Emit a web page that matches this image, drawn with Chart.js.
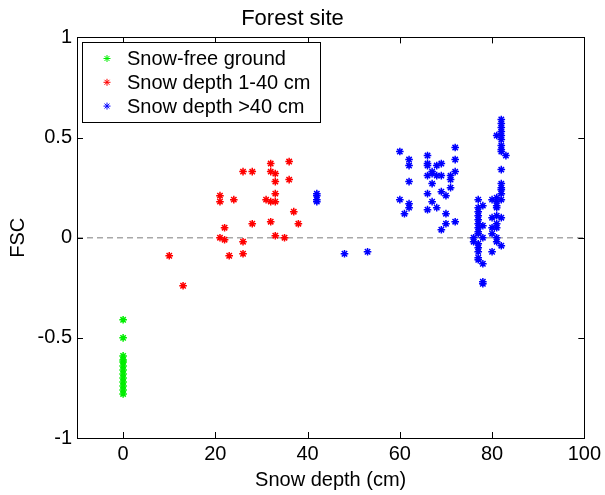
<!DOCTYPE html>
<html>
<head>
<meta charset="utf-8">
<script src="https://cdn.jsdelivr.net/npm/chart.js@4.4.1/dist/chart.umd.min.js"></script>
<style>
  html, body { margin: 0; padding: 0; background: #fff; }
  #wrap { width: 605px; height: 495px; }
</style>
</head>
<body>
<div id="wrap"><canvas id="fscChart" width="605" height="495"></canvas></div>
<script>
// Axis limits and tick values
const xLimits = [-10, 100];
const yLimits = [-1, 1];
const xTicks = [0, 20, 40, 60, 80, 100];
const yTicks = [-1, -0.5, 0, 0.5, 1];

const seriesNames = ["Snow-free ground", "Snow depth 1-40 cm", "Snow depth >40 cm"];

// Snow-free ground (all at 0 cm)
const freeX = [0, 0, 0, 0, 0, 0, 0, 0, 0, 0, 0, 0, 0];
const freeY = [-0.41, -0.50, -0.59, -0.61, -0.62, -0.64, -0.66, -0.68, -0.70, -0.72, -0.74, -0.76, -0.78];

// Snow depth 1-40 cm
const shallowX = [10, 13, 21, 21, 24, 22, 21, 22, 23, 26, 26, 26, 28, 28, 32, 32, 33, 33, 33, 31, 32, 33, 32, 33, 35, 36, 36, 37, 38];
const shallowY = [-0.09, -0.24, 0.21, 0.18, 0.19, 0.05, 0.00, -0.01, -0.09, -0.02, -0.08, 0.33, 0.33, 0.07, 0.37, 0.33, 0.32, 0.28, 0.22, 0.19, 0.18, 0.18, 0.08, 0.01, 0.00, 0.38, 0.29, 0.13, 0.07];

// Snow depth >40 cm
const deepX = [
  42, 42, 42, 42, 48, 53,
  60, 62, 62, 62, 60, 62, 62, 61, 66, 66, 66, 67, 66, 67, 68, 68, 69, 69, 67, 66, 69, 70, 67, 66, 68, 70, 70, 72, 69, 71, 71, 71, 72, 72, 72,
  77, 77, 77, 77, 77, 77, 77, 77, 77, 76, 78, 76, 77, 77, 77, 77, 77, 78, 78, 78, 78, 78,
  80, 80, 80, 81, 81, 81, 81, 82, 80, 81, 82, 81, 80, 81, 82, 82, 82, 82, 81, 82, 81,
  82, 82, 82, 82, 82, 81, 82, 82, 82, 82, 83, 82
];
const deepY = [
  0.22, 0.21, 0.19, 0.18, -0.08, -0.07,
  0.43, 0.39, 0.36, 0.28, 0.19, 0.17, 0.15, 0.12, 0.41, 0.37, 0.36, 0.33, 0.31, 0.32, 0.31, 0.36, 0.37, 0.31, 0.27, 0.22, 0.23, 0.21, 0.18, 0.14, 0.15, 0.12, 0.07, 0.08, 0.04, 0.25, 0.29, 0.31, 0.33, 0.39, 0.45,
  0.19, 0.15, 0.13, 0.11, 0.09, 0.07, 0.05, 0.03, 0.02, 0.00, 0.00, -0.02, -0.03, -0.05, -0.07, -0.10, -0.11, -0.13, -0.22, -0.23, 0.16, 0.06,
  -0.07, 0.05, 0.02, 0.07, 0.05, 0.00, -0.02, -0.04, 0.10, 0.11, 0.10, 0.16, 0.19, 0.20, 0.22, 0.24, 0.25, 0.27, 0.18, 0.19, 0.15,
  0.59, 0.57, 0.55, 0.53, 0.51, 0.51, 0.49, 0.46, 0.44, 0.43, 0.41, 0.34
];

const toPoints = (xs, ys) => xs.map((x, i) => ({ x, y: ys[i] }));

Chart.defaults.font.family = "'Liberation Sans', Arial, sans-serif";
Chart.defaults.color = "#000";

const starStyle = color => ({
  pointStyle: "star",
  pointRadius: 3.8,
  pointBorderWidth: 1.5,
  borderColor: color,
  backgroundColor: color,
  pointHoverRadius: 3.8
});

// MATLAB-style box with inward ticks on all four sides
const framePlugin = {
  id: "frame",
  afterDatasetsDraw(chart) {
    const { ctx, chartArea: a, scales } = chart;
    const len = 6;
    ctx.save();
    ctx.strokeStyle = "#000";
    ctx.lineWidth = 1;
    ctx.strokeRect(Math.round(a.left) + 0.5, Math.round(a.top) + 0.5,
      Math.round(a.right - a.left), Math.round(a.bottom - a.top));
    ctx.beginPath();
    xTicks.forEach(v => {
      const px = Math.round(scales.x.getPixelForValue(v)) + 0.5;
      ctx.moveTo(px, a.bottom); ctx.lineTo(px, a.bottom - len);
      ctx.moveTo(px, a.top); ctx.lineTo(px, a.top + len);
    });
    yTicks.forEach(v => {
      const py = Math.round(scales.y.getPixelForValue(v)) + 0.5;
      ctx.moveTo(a.left, py); ctx.lineTo(a.left + len, py);
      ctx.moveTo(a.right, py); ctx.lineTo(a.right - len, py);
    });
    ctx.stroke();
    ctx.restore();
  }
};

// Legend box inside the top-left corner of the axes
const boxLegendPlugin = {
  id: "boxLegend",
  afterDraw(chart) {
    const { ctx, chartArea: a } = chart;
    const sets = chart.data.datasets.slice(0, 3);
    ctx.save();
    ctx.font = "20px 'Liberation Sans', Arial, sans-serif";
    const textW = Math.max(...sets.map(d => ctx.measureText(d.label).width));
    const left = Math.round(a.left) + 5, top = Math.round(a.top) + 5;
    const w = Math.round(45 + textW + 10), h = 80;
    ctx.fillStyle = "#fff";
    ctx.fillRect(left, top, w, h);
    ctx.strokeStyle = "#000";
    ctx.lineWidth = 1;
    ctx.strokeRect(left + 0.5, top + 0.5, w, h);
    sets.forEach((d, i) => {
      const y = top + 16.5 + i * 23.8;
      ctx.strokeStyle = d.borderColor;
      ctx.fillStyle = d.borderColor;
      Chart.helpers.drawPoint(ctx, { pointStyle: "star", radius: 3.5, borderWidth: 1.3 }, left + 25, y);
      ctx.fillStyle = "#000";
      ctx.textBaseline = "middle";
      ctx.textAlign = "left";
      ctx.fillText(d.label, left + 45, y + 1);
    });
    ctx.restore();
  }
};

new Chart(document.getElementById("fscChart"), {
  type: "scatter",
  data: {
    datasets: [
      { label: seriesNames[0], data: toPoints(freeX, freeY), ...starStyle("#00ee00") },
      { label: seriesNames[1], data: toPoints(shallowX, shallowY), ...starStyle("#ff0000") },
      { label: seriesNames[2], data: toPoints(deepX, deepY), ...starStyle("#0000ff") },
      {
        label: "zero",
        type: "line",
        data: xLimits.map(x => ({ x, y: 0 })),
        showLine: true,
        pointRadius: 0,
        borderColor: "#a8a8a8",
        borderWidth: 1.5,
        borderDash: [6, 4]
      }
    ]
  },
  options: {
    responsive: false,
    animation: false,
    events: [],
    layout: { padding: { left: 0, right: 20, top: 0, bottom: 0 } },
    plugins: {
      legend: { display: false },
      tooltip: { enabled: false },
      title: {
        display: true,
        text: "Forest site",
        font: { size: 22, weight: "normal" },
        padding: { top: 6, bottom: 5 }
      }
    },
    scales: {
      x: {
        type: "linear",
        min: xLimits[0],
        max: xLimits[1],
        afterBuildTicks: s => { s.ticks = xTicks.map(v => ({ value: v })); },
        afterFit: s => { s.height = 57; },
        grid: { display: false, drawTicks: false },
        border: { display: false },
        ticks: { font: { size: 20 }, padding: 4, maxRotation: 0, autoSkip: false, callback: v => String(v) },
        title: { display: true, text: "Snow depth (cm)", font: { size: 20 }, padding: { top: 0, bottom: 3 } }
      },
      y: {
        type: "linear",
        min: yLimits[0],
        max: yLimits[1],
        afterBuildTicks: s => { s.ticks = yTicks.map(v => ({ value: v })); },
        afterFit: s => { s.width = 77; },
        grid: { display: false, drawTicks: false },
        border: { display: false },
        ticks: { font: { size: 20 }, padding: 5, callback: v => String(v) },
        title: { display: true, text: "FSC", font: { size: 20 }, padding: { top: 6, bottom: 0 } }
      }
    }
  },
  plugins: [framePlugin, boxLegendPlugin]
});
</script>
</body>
</html>
